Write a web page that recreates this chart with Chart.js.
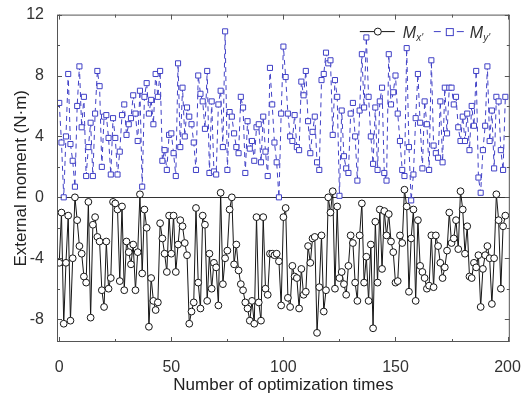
<!DOCTYPE html>
<html>
<head>
<meta charset="utf-8">
<script src="https://cdn.jsdelivr.net/npm/chart.js@4.4.1/dist/chart.umd.min.js"></script>
<style>
  html, body { margin: 0; padding: 0; background: #fff; }
  #chart { display: block; }
</style>
</head>
<body>
<canvas id="chart" width="529" height="401"></canvas>
<script>
// values, one per optimization run
const mxValues = [
  -4.3, -1.0, -8.3, -4.3, -1.2, -8.1, -4.0, 0.0, -1.5, -3.2, -3.7, -5.2, -5.6, -0.3, -7.9, -1.8, -1.3, -2.6, -2.9, -6.1, -7.2, -2.9, -6.0, -5.3, -0.3,
  -0.4, -0.8, -5.5, -0.6, -6.1, -2.9, -3.6, -4.4, -3.1, -6.1, -3.6, 0.2, -5.0, -0.8, -2.0, -8.5, -5.3, -6.8, -7.4, -6.9, -1.7, -2.7, -3.7, -4.9, -1.2,
  -3.7, -1.2, -4.9, -3.1, -1.5, -1.9, -3.0, -3.8, -8.3, -7.5, -6.9, -0.7, -5.6, -7.3, -1.2, -1.8, -6.8, -3.7, -6.0, -4.3, -4.6, -7.1, 0.3, -5.7, -4.0, -3.5,
  -0.8, 0.0, -4.4, -3.1, -4.8, -5.7, -6.1, -6.9, -7.3, -8.1, -6.8, -8.3, -1.3, -6.9, -8.1, -1.3, -6.0, -6.4, -3.7, -3.7, -3.8, -3.7, -4.2, -7.1, -1.3,
  -0.7, -6.6, -7.2, -4.5, -5.2, -5.3, -7.3, -4.7, -6.4, -6.2, -3.2, -4.3, -2.7, -2.6, -8.9, -5.9, -2.5, -7.5, -6.1, 0.0, -1.0, 0.4, -6.0, -0.6, -5.3,
  -4.9, -5.7, -6.4, -4.5, -2.5, -3.0, -5.6, -6.8, -2.5, -0.4, -5.6, -3.9, -6.8, -3.1, -8.6, -1.6, -5.6, -0.8, -4.7, -0.9, -2.5, -1.1, -2.9, -3.6, -5.6,
  -5.5, -2.5, -3.0, 0.5, -0.6, -6.2, -2.7, -0.8, -6.8, -1.5, -4.5, -4.9, -5.3, -6.0, -5.8, -2.5, -5.9, -2.5, -3.2, -4.3, -5.3, -4.6, -3.5, -1.0, -3.0,
  -2.7, -1.5, -3.4, 0.4, -0.8, -3.7, -1.9, -5.2, -5.3, -4.3, -4.6, -3.8, -7.2, -4.7, -3.8, -3.2, -4.0, -7.0, -4.0, 0.2, -1.5, -6.0, -1.9, -1.2
];
const myValues = [
  6.2, 3.6, 0.0, 4.0, 8.1, 3.5, 2.4, 0.7, 6.0, 8.6, 4.6, 6.6, 1.4, 3.3, 4.9, 1.4, 5.5, 8.3, 7.3, 2.0, 5.3, 5.4, 3.9, 1.5, 5.2,
  3.9, 1.5, 3.0, 5.4, 6.1, 4.1, 4.8, 5.2, 6.7, 5.5, 3.7, 7.0, 0.7, 6.6, 7.5, 5.5, 6.4, 4.8, 8.1, 6.6, 8.3, 2.4, 3.1, 1.8, 4.1,
  4.2, 2.9, 1.4, 8.8, 3.3, 7.2, 4.0, 5.9, 5.3, 4.8, 3.6, 1.8, 8.0, 6.8, 6.3, 4.5, 8.3, 1.6, 6.3, 1.7, 1.5, 6.1, 7.0, 3.3, 10.9, 1.8,
  5.6, 5.3, 4.2, 3.3, 2.9, 6.6, 5.9, 1.6, 5.0, 3.2, 3.7, 2.4, 4.6, 4.8, 2.3, 5.3, 3.0, 1.4, 8.5, 6.1, 3.6, 2.3, 0.0, 5.5, 9.9,
  7.9, 5.5, 4.0, 3.7, 5.4, 3.3, 3.1, 7.6, 6.7, 8.3, 5.0, 2.9, 4.3, 5.3, 2.3, 1.8, 7.7, 8.1, 9.5, 8.8, 9.0, 4.1, 7.7, 6.6, 0.1,
  5.7, 2.7, 1.9, 1.6, 5.5, 6.2, 4.0, 1.1, 5.7, 9.4, 5.9, 10.5, 6.6, 4.0, 2.2, 5.9, 1.8, 6.3, 7.2, 1.6, 1.1, 9.4, 6.1, 6.9, 8.0,
  5.5, 3.7, 1.8, 1.4, 9.8, 3.3, -0.2, 1.5, 5.2, 8.1, 4.9, 1.9, 6.3, 4.8, 1.8, 9.0, 3.4, 2.9, 2.6, 6.3, 2.3, 7.2, 4.2, 7.2, 7.2,
  6.1, 6.6, 4.6, 3.7, 5.3, 3.7, 5.5, 3.1, 6.0, 4.7, 8.3, 1.3, 0.3, 3.1, 4.7, 8.6, 3.7, 5.7, 1.9, 6.6, 6.3, 3.1, 1.8, 6.6
];
const runs = mxValues.map((v, i) => i);
const xTicks = [0, 50, 100, 150, 200];
const xMinorTicks = [25, 75, 125, 175];
const yTicks = [-8, -4, 0, 4, 8, 12];
const yMinorTicks = [-6, -2, 2, 6, 10];

const FONT = '"Liberation Sans", Arial, sans-serif';
const BLUE = '#4040c6';
const BLACK = '#151515';

// frame, inward ticks, zero line and the legend with subscripts
const framePlugin = {
  id: 'frame',
  beforeDatasetsDraw(chart) {
    const { ctx, chartArea: a, scales: { y } } = chart;
    const y0 = Math.round(y.getPixelForValue(0)) + 0.5;
    ctx.save();
    ctx.strokeStyle = '#333';
    ctx.lineWidth = 1;
    ctx.beginPath();
    ctx.moveTo(a.left, y0);
    ctx.lineTo(a.right, y0);
    ctx.stroke();
    ctx.restore();
  },
  afterDraw(chart) {
    const { ctx, chartArea: a, scales: { x, y } } = chart;
    ctx.save();
    ctx.strokeStyle = '#555';
    ctx.lineWidth = 1;
    ctx.strokeRect(a.left + 0.5, a.top + 0.5, a.right - a.left - 1, a.bottom - a.top - 1);
    ctx.beginPath();
    const xt = (vals, len) => vals.forEach(v => {
      const px = Math.round(x.getPixelForValue(v)) + 0.5;
      ctx.moveTo(px, a.bottom); ctx.lineTo(px, a.bottom - len);
      ctx.moveTo(px, a.top); ctx.lineTo(px, a.top + len);
    });
    const yt = (vals, len) => vals.forEach(v => {
      const py = Math.round(y.getPixelForValue(v)) + 0.5;
      ctx.moveTo(a.left, py); ctx.lineTo(a.left + len, py);
      ctx.moveTo(a.right, py); ctx.lineTo(a.right - len, py);
    });
    xt(xTicks, 5); xt(xMinorTicks, 3);
    yt(yTicks, 5); yt(yMinorTicks, 3);
    ctx.stroke();

    // legend
    const ly = a.top + 17;
    ctx.lineWidth = 1;
    ctx.strokeStyle = BLACK;
    ctx.beginPath();
    ctx.moveTo(a.right - 150, ly); ctx.lineTo(a.right - 115, ly);
    ctx.stroke();
    ctx.fillStyle = '#fff';
    ctx.beginPath();
    ctx.arc(a.right - 132, ly, 3.5, 0, Math.PI * 2);
    ctx.fill(); ctx.stroke();

    ctx.strokeStyle = BLUE;
    ctx.beginPath();
    ctx.moveTo(a.right - 76, ly); ctx.lineTo(a.right - 69, ly);
    ctx.moveTo(a.right - 53, ly); ctx.lineTo(a.right - 46, ly);
    ctx.stroke();
    ctx.fillRect(a.right - 64, ly - 3.5, 7, 7);
    ctx.strokeRect(a.right - 64 + 0.5, ly - 3.5 + 0.5, 7, 7);

    ctx.fillStyle = '#333';
    ctx.textBaseline = 'alphabetic';
    const label = (px, sub) => {
      ctx.font = 'italic 16px ' + FONT;
      ctx.fillText('M', px, ly + 6);
      const w = ctx.measureText('M').width;
      ctx.font = 'italic 10px ' + FONT;
      ctx.fillText(sub, px + w, ly + 9);
    };
    label(a.right - 107, "x'");
    label(a.right - 40, "y'");
    ctx.restore();
  }
};

const ctx = document.getElementById('chart').getContext('2d');
new Chart(ctx, {
  type: 'line',
  data: {
    datasets: [
      {
        label: "Mx'",
        data: mxValues.map((v, i) => ({ x: runs[i], y: v })),
        borderColor: BLACK,
        borderWidth: 1,
        pointStyle: 'circle',
        pointRadius: 3.4,
        pointBackgroundColor: '#fff',
        pointBorderColor: BLACK,
        pointBorderWidth: 1,
        tension: 0
      },
      {
        label: "My'",
        data: myValues.map((v, i) => ({ x: runs[i], y: v })),
        borderColor: BLUE,
        borderWidth: 1,
        borderDash: [5, 4],
        pointStyle: 'rect',
        pointRadius: 3.6,
        pointBackgroundColor: '#fff',
        pointBorderColor: BLUE,
        pointBorderWidth: 1,
        tension: 0
      }
    ]
  },
  options: {
    responsive: false,
    animation: false,
    devicePixelRatio: 1,
    layout: { padding: { top: 12, right: 16, left: 0, bottom: 0 } },
    plugins: { legend: { display: false }, tooltip: { enabled: false } },
    scales: {
      x: {
        type: 'linear',
        min: -1,
        max: 201,
        afterBuildTicks: s => { s.ticks = xTicks.map(v => ({ value: v })); },
        afterFit: s => { s.height = 59; },
        grid: { display: false },
        border: { display: false },
        ticks: { color: '#333', padding: 8, maxRotation: 0, font: { size: 16, family: FONT } },
        title: { display: true, text: 'Number of optimization times', color: '#222',
                 padding: { top: 0, bottom: 5 }, font: { size: 17, family: FONT } }
      },
      y: {
        type: 'linear',
        min: -9.5,
        max: 12,
        afterBuildTicks: s => { s.ticks = yTicks.map(v => ({ value: v })); },
        afterFit: s => { s.width = 57; },
        grid: { display: false },
        border: { display: false },
        ticks: { color: '#333', padding: 5, font: { size: 16, family: FONT } },
        title: { display: true, text: 'External moment (N·m)', color: '#222',
                 padding: { top: 11, bottom: 0 }, font: { size: 17, family: FONT } }
      }
    }
  },
  plugins: [framePlugin]
});
</script>
</body>
</html>
